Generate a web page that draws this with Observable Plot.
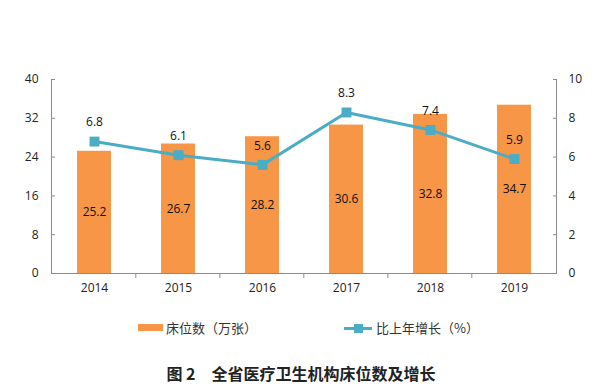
<!DOCTYPE html>
<html>
<head>
<meta charset="utf-8">
<script src="https://cdn.jsdelivr.net/npm/d3@7"></script>
<script src="https://cdn.jsdelivr.net/npm/@observablehq/plot@0.6"></script>
<style>
  body { margin: 0; background: #fff; font-family: "Open Sans", "Noto Sans CJK SC", sans-serif; }
  #wrap { position: relative; width: 602px; height: 392px; }
  #chart { position: absolute; left: 0; top: 0; }
  .leg { position: absolute; top: 318px; font-size: 13px; color: #333; display: flex; align-items: center; font-family: "Noto Sans CJK SC", sans-serif; }
  .sw-bar { width: 25px; height: 7px; background: #F79646; margin-right: 3px; }
  .sw-line { position: relative; width: 28px; height: 12px; margin-right: 4px; }
  .sw-line .l { position: absolute; left: 0; right: 0; top: 5px; height: 3px; background: #4BACC6; }
  .sw-line .m { position: absolute; left: 10px; top: 2px; width: 9px; height: 9px; background: #4BACC6; }
  #caption { position: absolute; top: 361px; left: 0; width: 602px; text-align: center; font-size: 16px; font-weight: bold; color: #222; font-family: "Noto Sans CJK SC", sans-serif; }
</style>
</head>
<body>
<div id="wrap">
  <div id="chart"></div>
  <div class="leg" style="left:138px"><div class="sw-bar"></div><span>床位数（万张）</span></div>
  <div class="leg" style="left:344px"><div class="sw-line"><div class="l"></div><div class="m"></div></div><span>比上年增长（%）</span></div>
  <div id="caption">图 2　全省医疗卫生机构床位数及增长</div>
</div>
<script>
const years = ["2014", "2015", "2016", "2017", "2018", "2019"];
const beds = [25.2, 26.7, 28.2, 30.6, 32.8, 34.7];      // 床位数（万张）, left axis
const growth = [6.8, 6.1, 5.6, 8.3, 7.4, 5.9];          // 比上年增长（%）, right axis
const leftTicks = [0, 8, 16, 24, 32, 40];
const rightTickLabels = [0, 2, 4, 6, 8, 10];

const ratio = 40 / 10; // right axis (0–10) mapped onto the left scale (0–40)
const data = years.map((y, i) => ({year: y, beds: beds[i], growth: growth[i]}));

const axisColor = "#8c8c8c";
const paddingInner = 0.6;

const bandTicks = (index, scales, values, dims) => {
  const x = scales.x;
  const step = x(years[1]) - x(years[0]);
  const g = d3.create("svg:g");
  const y0 = dims.height - dims.marginBottom;
  for (let i = 1; i < years.length; i++) {
    const px = x(years[i]) - step * paddingInner / 2;
    g.append("line").attr("x1", px).attr("x2", px).attr("y1", y0).attr("y2", y0 + 5)
      .attr("stroke", axisColor).attr("stroke-width", 1);
  }
  return g.node();
};

const chart = Plot.plot({
  width: 602,
  height: 305,
  marginLeft: 51,
  marginRight: 46,
  marginTop: 79,
  marginBottom: 32,
  style: {fontFamily: "'Open Sans', sans-serif", fontSize: "12px", color: "#222", background: "transparent"},
  x: {type: "band", domain: years, paddingInner: paddingInner, paddingOuter: 0.3, label: null},
  y: {domain: [0, 40], label: null},
  marks: [
    Plot.barY(data, {x: "year", y: "beds", fill: "#F79646"}),
    Plot.text(data, {x: "year", y: d => d.beds / 2, text: d => d.beds.toFixed(1), fill: "#111", fontSize: 12}),
    Plot.frame({anchor: "left", stroke: axisColor}),
    Plot.frame({anchor: "right", stroke: axisColor}),
    Plot.frame({anchor: "bottom", stroke: axisColor}),
    Plot.axisY(leftTicks, {anchor: "left", tickSize: -4, tickPadding: 17, stroke: axisColor, fill: "#222", fontSize: 12}),
    Plot.axisY(leftTicks, {anchor: "right", tickSize: -4, tickPadding: 16, stroke: axisColor, fill: "#222", fontSize: 12,
      tickFormat: d => String(rightTickLabels[leftTicks.indexOf(d)])}),
    Plot.axisX({anchor: "bottom", tickSize: 0, tickPadding: 10, fill: "#222", fontSize: 12}),
    bandTicks,
    Plot.line(data, {x: "year", y: d => d.growth * ratio, stroke: "#4BACC6", strokeWidth: 3}),
    Plot.dot(data, {x: "year", y: d => d.growth * ratio, symbol: "square", r: 5.6, fill: "#4BACC6", stroke: "none"}),
    Plot.text(data, {x: "year", y: d => d.growth * ratio, text: d => d.growth.toFixed(1), dy: -19, fill: "#111", fontSize: 12})
  ]
});
document.getElementById("chart").appendChild(chart);
</script>
</body>
</html>
